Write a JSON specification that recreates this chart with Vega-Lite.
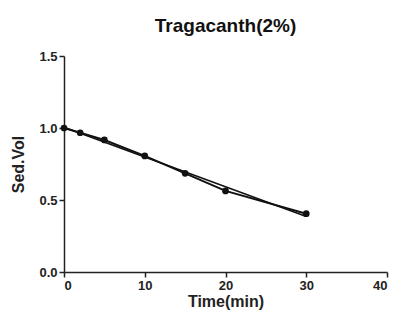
{
  "$schema": "https://vega.github.io/schema/vega-lite/v6.json",
  "autosize": "none",
  "width": 323,
  "height": 216,
  "padding": {"left": 64, "top": 56, "right": 11, "bottom": 50},
  "background": "white",
  "title": {"text": "Tragacanth(2%)", "font": "Liberation Sans", "fontSize": 19, "fontWeight": "bold", "color": "#111", "offset": 14, "anchor": "middle"},
  "config": {
    "view": {"stroke": null},
    "axis": {
      "grid": false,
      "domainColor": "#222",
      "domainWidth": 1.5,
      "tickColor": "#222",
      "tickWidth": 1.5,
      "tickSize": 5,
      "labelFont": "Liberation Sans",
      "labelFontSize": 13,
      "labelFontWeight": "bold",
      "labelColor": "#222",
      "titleFont": "Liberation Sans",
      "titleFontSize": 16,
      "titleFontWeight": "bold",
      "titleColor": "#222"
    }
  },
  "data": {"values": [
    {"time": 0, "vol": 1.0},
    {"time": 2, "vol": 0.967},
    {"time": 5, "vol": 0.917},
    {"time": 10, "vol": 0.806},
    {"time": 15, "vol": 0.685},
    {"time": 20, "vol": 0.563},
    {"time": 30, "vol": 0.405}
  ]},
  "encoding": {
    "x": {"field": "time", "type": "quantitative", "scale": {"domain": [0, 40], "nice": false, "zero": true},
      "axis": {"values": [0, 10, 20, 30, 40], "title": "Time(min)", "titlePadding": 1, "labelPadding": 2}},
    "y": {"field": "vol", "type": "quantitative", "scale": {"domain": [0, 1.5], "nice": false},
      "axis": {"values": [0, 0.5, 1.0, 1.5], "format": ".1f", "title": "Sed.Vol", "titlePadding": 12, "labelPadding": 2}}
  },
  "layer": [
    {"mark": {"type": "line", "color": "#111", "strokeWidth": 2}},
    {"transform": [{"regression": "vol", "on": "time", "extent": [0, 30]}],
     "mark": {"type": "line", "color": "#111", "strokeWidth": 1.5}},
    {"mark": {"type": "point", "filled": true, "color": "#111", "size": 45, "opacity": 1}}
  ]
}
